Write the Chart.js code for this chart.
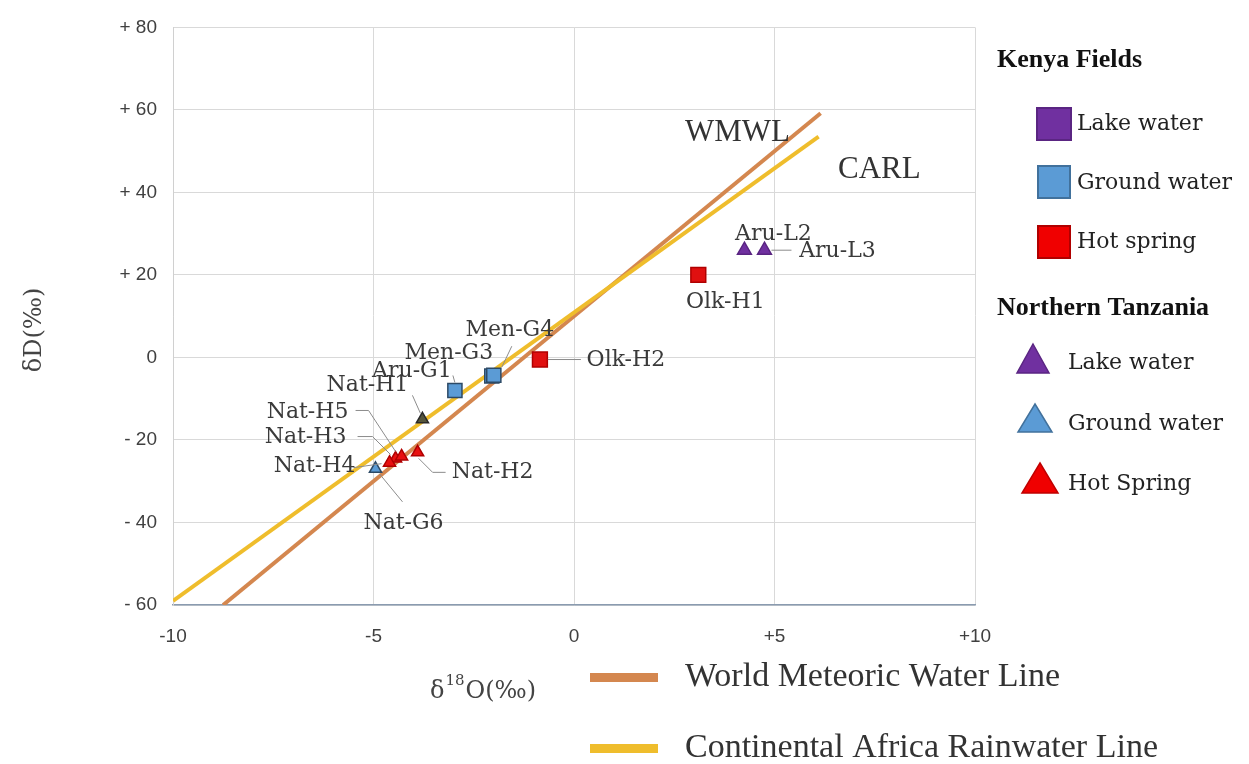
<!DOCTYPE html>
<html>
<head>
<meta charset="utf-8">
<script src="https://cdn.jsdelivr.net/npm/chart.js@4.4.1/dist/chart.umd.min.js"></script>
<style>
  body { margin: 0; background: #fff; }
  #wrap { width: 1249px; height: 764px; }
</style>
</head>
<body>
<div id="wrap"><canvas id="isotopes" width="1249" height="764"></canvas></div>
<script>
// values (d18O, dD in permil)
const kenyaLakeNames = [];
const kenyaLakeX = [];
const kenyaLakeY = [];

const kenyaGroundNames = ['Aru-G1', 'Men-G3', 'Men-G4'];
const kenyaGroundX = [-2.97, -2.05, -2.0];
const kenyaGroundY = [-8, -4.5, -4.3];

const kenyaHotNames = ['Olk-H1', 'Olk-H2'];
const kenyaHotX = [3.1, -0.85];
const kenyaHotY = [20, -0.5];

const tzLakeNames = ['Aru-L2', 'Aru-L3'];
const tzLakeX = [4.25, 4.75];
const tzLakeY = [26, 26];

const tzGroundNames = ['Nat-G6'];
const tzGroundX = [-4.95];
const tzGroundY = [-27];

const tzHotNames = ['Nat-H1', 'Nat-H2', 'Nat-H3', 'Nat-H4', 'Nat-H5'];
const tzHotX = [-3.78, -3.9, -4.45, -4.6, -4.3];
const tzHotY = [-15, -23, -24.5, -25.5, -24];

// reference lines (end points)
const wmwlX = [-8.75, 6.15];
const wmwlY = [-60, 59.2];
const carlX = [-10, 6.1];
const carlY = [-59, 53.5];

const xTicks = [-10, -5, 0, 5, 10];
const yTicks = [-60, -40, -20, 0, 20, 40, 60, 80];

const pts = (names, xs, ys) => xs.map((x, i) => ({ x: x, y: ys[i], name: names[i] }));

// where each sample label sits, relative to its point (px)
const labelSpots = {
  'Aru-L2': { dx: 29, dy: -16 },
  'Aru-L3': { dx: 73, dy: 1, leader: [[7, 0], [27, 0]] },
  'Olk-H1': { dx: 27, dy: 27 },
  'Olk-H2': { dx: 86, dy: 1, leader: [[8, 0], [41, 0]] },
  'Men-G4': { dx: 16, dy: -45, leader: [[18, -29], [8, -8]] },
  'Men-G3': { dx: -43, dy: -23 },
  'Aru-G1': { dx: -43, dy: -19, leader: [[-2, -15], [0, -8]] },
  'Nat-H1': { dx: -55, dy: -34, leader: [[-10, -24], [-2, -6]] },
  'Nat-H5': { dx: -94, dy: -44, leader: [[-46, -46], [-33, -46], [-6, -5]] },
  'Nat-H3': { dx: -90, dy: -21, leader: [[-38, -22], [-23, -22], [-5, -4]] },
  'Nat-H4': { dx: -75, dy: 4, leader: [[-36, 5], [-8, 1]] },
  'Nat-H2': { dx: 75, dy: 20, leader: [[28, 20], [15, 20], [1, 6]] },
  'Nat-G6': { dx: 28, dy: 54, leader: [[27, 33], [4, 5]] },
};

const PURPLE = '#7030A0';
const BLUE = '#5B9BD5';
const RED = '#F00000';
const ORANGE = '#D4874F';
const YELLOW = '#EFBD2C';
const SERIF = '"DejaVu Serif", serif';
const TIMES = '"Liberation Serif", serif';

function txt(ctx, s, x, y, font, align, color) {
  ctx.font = font;
  ctx.fillStyle = color || '#333';
  ctx.textAlign = align || 'left';
  ctx.textBaseline = 'middle';
  ctx.fillText(s, x, y);
}

function square(ctx, x, y, w, h, fill, stroke) {
  ctx.fillStyle = fill;
  ctx.fillRect(x, y, w, h);
  ctx.lineWidth = 2;
  ctx.strokeStyle = stroke;
  ctx.strokeRect(x, y, w, h);
}

function triangle(ctx, x, y, w, h, fill, stroke) {
  ctx.beginPath();
  ctx.moveTo(x + w / 2, y);
  ctx.lineTo(x + w, y + h);
  ctx.lineTo(x, y + h);
  ctx.closePath();
  ctx.fillStyle = fill;
  ctx.fill();
  ctx.lineWidth = 1.5;
  ctx.strokeStyle = stroke;
  ctx.stroke();
}

const overlay = {
  id: 'overlay',
  afterDatasetsDraw(chart) {
    const ctx = chart.ctx;
    ctx.save();
    // sample labels + leader lines
    chart.data.datasets.forEach((ds, i) => {
      if (ds.isLine) return;
      chart.getDatasetMeta(i).data.forEach((el, j) => {
        const spot = labelSpots[ds.data[j].name];
        if (!spot) return;
        if (spot.leader) {
          ctx.beginPath();
          spot.leader.forEach(([dx, dy], k) => {
            if (k === 0) ctx.moveTo(el.x + dx, el.y + dy);
            else ctx.lineTo(el.x + dx, el.y + dy);
          });
          ctx.strokeStyle = '#8c8c8c';
          ctx.lineWidth = 1;
          ctx.stroke();
        }
        txt(ctx, ds.data[j].name, el.x + spot.dx, el.y + spot.dy, '22px ' + SERIF, 'center', '#3a3a3a');
      });
    });
    ctx.restore();
  },
  afterDraw(chart) {
    const ctx = chart.ctx;
    ctx.save();
    // line names
    txt(ctx, 'WMWL', 685, 133, '31px ' + TIMES, 'left', '#333');
    txt(ctx, 'CARL', 838, 170, '31px ' + TIMES, 'left', '#333');

    // axis titles
    ctx.font = '24px ' + SERIF;
    let x = 430;
    txt(ctx, 'δ', x, 692, '24px ' + SERIF, 'left', '#444');
    x += ctx.measureText('δ').width + 1;
    txt(ctx, '18', x, 681, '15px ' + SERIF, 'left', '#444');
    ctx.font = '15px ' + SERIF;
    x += ctx.measureText('18').width + 1;
    txt(ctx, 'O(‰)', x, 692, '24px ' + SERIF, 'left', '#444');

    ctx.save();
    ctx.translate(35, 330);
    ctx.rotate(-Math.PI / 2);
    txt(ctx, 'δD(‰)', 0, 0, '24px ' + SERIF, 'center', '#444');
    ctx.restore();

    // right-hand legend
    txt(ctx, 'Kenya Fields', 997, 60, 'bold 26px ' + TIMES, 'left', '#111');
    square(ctx, 1037, 108, 34, 32, PURPLE, '#5a2582');
    txt(ctx, 'Lake water', 1077, 124, '22px ' + SERIF, 'left', '#222');
    square(ctx, 1038, 166, 32, 32, BLUE, '#41719C');
    txt(ctx, 'Ground water', 1077, 183, '22px ' + SERIF, 'left', '#222');
    square(ctx, 1038, 226, 32, 32, RED, '#B00000');
    txt(ctx, 'Hot spring', 1077, 242, '22px ' + SERIF, 'left', '#222');

    txt(ctx, 'Northern Tanzania', 997, 308, 'bold 26px ' + TIMES, 'left', '#111');
    triangle(ctx, 1017, 344, 32, 29, PURPLE, '#5a2582');
    txt(ctx, 'Lake water', 1068, 363, '22px ' + SERIF, 'left', '#222');
    triangle(ctx, 1018, 404, 34, 28, BLUE, '#41719C');
    txt(ctx, 'Ground water', 1068, 424, '22px ' + SERIF, 'left', '#222');
    triangle(ctx, 1022, 463, 36, 30, RED, '#C00000');
    txt(ctx, 'Hot Spring', 1068, 484, '22px ' + SERIF, 'left', '#222');

    // bottom legend for the two lines
    ctx.fillStyle = ORANGE;
    ctx.fillRect(590, 673, 68, 9);
    txt(ctx, 'World Meteoric Water Line', 685, 677, '34px ' + TIMES, 'left', '#333');
    ctx.fillStyle = YELLOW;
    ctx.fillRect(590, 744, 68, 9);
    txt(ctx, 'Continental Africa Rainwater Line', 685, 748, '34px ' + TIMES, 'left', '#333');
    ctx.restore();
  }
};

const lineDs = (label, xs, ys, color) => ({
  label: label,
  isLine: true,
  data: xs.map((x, i) => ({ x: x, y: ys[i] })),
  showLine: true,
  borderColor: color,
  borderWidth: 4,
  pointRadius: 0,
  fill: false,
});

const pointDs = (label, data, style, radius, fill, stroke) => ({
  label: label,
  data: data,
  pointStyle: style,
  pointRadius: radius,
  pointBackgroundColor: fill,
  pointBorderColor: stroke,
  pointBorderWidth: 1.5,
  showLine: false,
});

new Chart(document.getElementById('isotopes'), {
  type: 'scatter',
  data: {
    datasets: [
      pointDs('Kenya lake water', pts(kenyaLakeNames, kenyaLakeX, kenyaLakeY), 'rect', 10.5, PURPLE, '#5a2582'),
      pointDs('Kenya ground water', pts(kenyaGroundNames, kenyaGroundX, kenyaGroundY), 'rect', 10, BLUE, '#2d4a66'),
      pointDs('Kenya hot spring', pts(kenyaHotNames, kenyaHotX, kenyaHotY), 'rect', 10.5, '#E01010', '#B00000'),
      pointDs('Tanzania lake water', pts(tzLakeNames, tzLakeX, tzLakeY), 'triangle', 8, PURPLE, '#5a2582'),
      pointDs('Tanzania ground water', pts(tzGroundNames, tzGroundX, tzGroundY), 'triangle', 7, BLUE, '#2d4a66'),
      pointDs('Tanzania hot spring', pts(tzHotNames, tzHotX, tzHotY), 'triangle', 7,
        tzHotNames.map(n => n === 'Nat-H1' ? '#55553c' : '#E81010'),
        tzHotNames.map(n => n === 'Nat-H1' ? '#2a2a2a' : '#B00000')),
      lineDs('CARL', carlX, carlY, YELLOW),
      lineDs('WMWL', wmwlX, wmwlY, ORANGE),
    ],
  },
  options: {
    responsive: false,
    animation: false,
    layout: { padding: { top: 20, right: 274, left: 0, bottom: 0 } },
    plugins: {
      legend: { display: false },
      tooltip: { enabled: false },
    },
    scales: {
      x: {
        type: 'linear',
        min: -10,
        max: 10,
        afterFit: (s) => { s.height = 159; },
        afterBuildTicks: (s) => { s.ticks = xTicks.map(v => ({ value: v })); },
        ticks: {
          padding: 20,
          color: '#404040',
          font: { family: '"Liberation Sans", sans-serif', size: 19 },
          callback: (v) => (v > 0 ? '+' + v : '' + v),
        },
        grid: { color: '#d9d9d9', drawTicks: false },
        border: { color: '#8a9bb0', width: 1.5 },
      },
      y: {
        min: -60,
        max: 80,
        afterFit: (s) => { s.width = 173; },
        afterBuildTicks: (s) => { s.ticks = yTicks.map(v => ({ value: v })); },
        ticks: {
          padding: 16,
          color: '#404040',
          font: { family: '"Liberation Sans", sans-serif', size: 19 },
          callback: (v) => (v > 0 ? '+ ' + v : v < 0 ? '- ' + Math.abs(v) : '0'),
        },
        grid: { color: '#d9d9d9', drawTicks: false },
        border: { color: '#d0d0d0' },
      },
    },
  },
  plugins: [overlay],
});
</script>
</body>
</html>
